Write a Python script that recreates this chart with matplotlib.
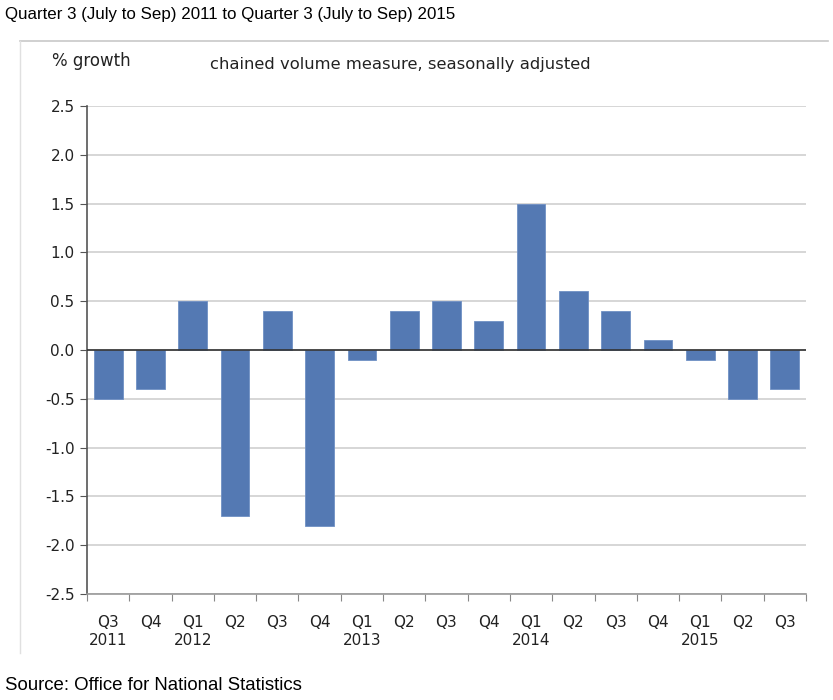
import matplotlib
matplotlib.use("Agg")
import matplotlib.pyplot as plt
from matplotlib.lines import Line2D
import numpy as np

# quarterly GDP growth, Q3 2011 - Q3 2015
quarters = ['Q3', 'Q4', 'Q1', 'Q2', 'Q3', 'Q4', 'Q1', 'Q2', 'Q3',
            'Q4', 'Q1', 'Q2', 'Q3', 'Q4', 'Q1', 'Q2', 'Q3']
years = ['2011', '', '2012', '', '', '', '2013', '', '',
         '', '2014', '', '', '', '2015', '', '']
growth = [-0.5, -0.4, 0.5, -1.7, 0.4, -1.8, -0.1, 0.4, 0.5,
          0.3, 1.5, 0.6, 0.4, 0.1, -0.1, -0.5, -0.4]
yticks = [2.5, 2.0, 1.5, 1.0, 0.5, 0.0, -0.5, -1.0, -1.5, -2.0, -2.5]

bar_color = '#5479B3'

fig = plt.figure(figsize=(8.33, 7.0), dpi=100)
ax = fig.add_axes([87/833, 1 - 594/700, (806 - 87)/833, (594 - 106)/700])

x = np.arange(len(growth))
ax.bar(x, growth, width=0.68, color=bar_color, edgecolor='#6F90C4', linewidth=0.6, zorder=3)

ax.set_xlim(-0.5, len(growth) - 0.5)
ax.set_ylim(-2.5, 2.5)
ax.set_yticks(yticks)
ax.set_yticklabels([f'{v:.1f}' for v in yticks], fontsize=11, color='#222222')
ax.yaxis.grid(True, color='#D0D0D0', linewidth=1.2, zorder=0)
ax.axhline(0, color='#333333', linewidth=1.2, zorder=4)

# category ticks at boundaries, labels centred
ax.set_xticks(np.arange(len(growth) + 1) - 0.5)
ax.set_xticklabels([])
ax.set_xticks(x, minor=True)
ax.set_xticklabels([f'{q}\n{y}' for q, y in zip(quarters, years)], minor=True,
                   fontsize=11, color='#222222', linespacing=1.25)
ax.tick_params(axis='x', which='minor', length=0, pad=15)
ax.tick_params(axis='x', which='major', length=5, color='#888888')
ax.tick_params(axis='y', length=5, color='#555555', pad=4)

for s in ['top', 'right']:
    ax.spines[s].set_visible(False)
ax.spines['left'].set_color('#555555')
ax.spines['bottom'].set_color('#999999')
ax.spines['left'].set_linewidth(1.2)
ax.spines['bottom'].set_linewidth(1.2)
ax.set_axisbelow(True)

# outer frame (top and left edges)
fig.add_artist(Line2D([20/833, 828/833], [1 - 41/700, 1 - 41/700], color='#C8C8C8', linewidth=1.2))
fig.add_artist(Line2D([20/833, 20/833], [1 - 41/700, 1 - 653/700], color='#E0E0E0', linewidth=1.0))

fig.text(5/833, 1 - 14/700, 'Quarter 3 (July to Sep) 2011 to Quarter 3 (July to Sep) 2015',
         fontsize=12.2, family='Liberation Sans', va='center', ha='left')
fig.text(52/833, 1 - 61/700, '% growth', fontsize=12, va='center', ha='left', color='#222222')
fig.text(210/833, 1 - 64/700, 'chained volume measure, seasonally adjusted', fontsize=11.8,
         va='center', ha='left', color='#222222')
fig.text(5/833, 1 - 685/700, 'Source: Office for National Statistics',
         fontsize=13.4, family='Liberation Sans', va='center', ha='left')

fig.savefig('out.png', dpi=100)
